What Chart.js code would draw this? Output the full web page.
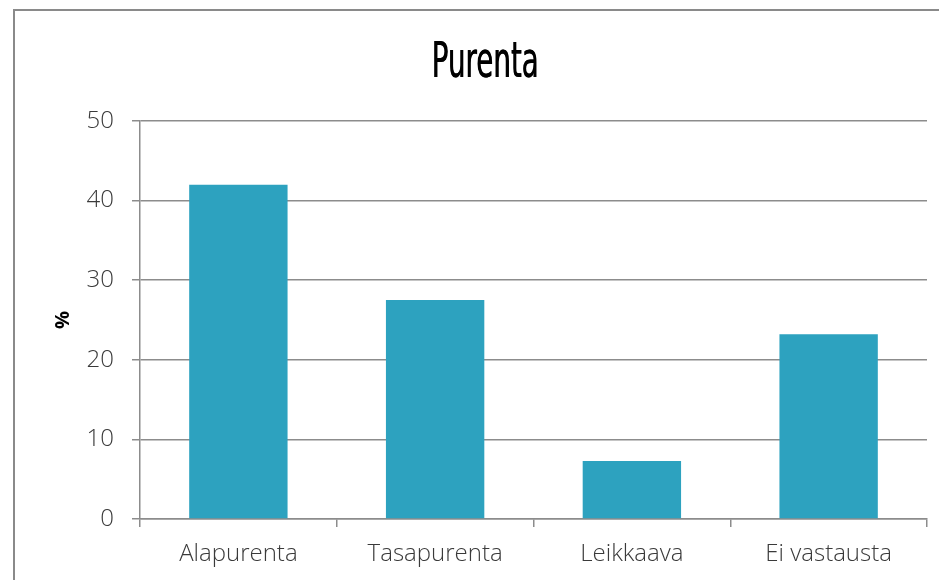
<!DOCTYPE html>
<html>
<head>
<meta charset="utf-8">
<title>Purenta</title>
<script src="https://cdn.jsdelivr.net/npm/chart.js@4.4.0/dist/chart.umd.min.js"></script>
<style>
    html, body { margin: 0; padding: 0; background: #fff; }
    #wrap { width: 939px; height: 580px; }
</style>
</head>
<body>
<div id="wrap"><canvas id="purentaChart" width="939" height="580"></canvas></div>
<script>
// Chart data
var categories = ['Alapurenta', 'Tasapurenta', 'Leikkaava', 'Ei vastausta'];
var percentValues = [42.0, 27.5, 7.3, 23.2];
var yTickValues = [0, 10, 20, 30, 40, 50];
var chartTitle = 'Purenta';
var yAxisTitle = '%';

var gridColor = '#8c8c8c';
var barColor = '#2da2bf';
var labelColor = '#3a3a3a';

// Frame lines and the narrow title (drawn compressed like the original)
var frameAndTitle = {
    id: 'frameAndTitle',
    beforeDraw: function (chart) {
        var ctx = chart.ctx;
        ctx.save();
        ctx.fillStyle = '#fff';
        ctx.fillRect(0, 0, chart.width, chart.height);
        ctx.strokeStyle = '#8a8a8a';
        ctx.lineWidth = 2;
        ctx.beginPath();
        ctx.moveTo(14, chart.height + 2);
        ctx.lineTo(14, 10);
        ctx.lineTo(chart.width + 2, 10);
        ctx.stroke();
        ctx.restore();
    },
    afterDraw: function (chart) {
        var ctx = chart.ctx;
        ctx.save();
        ctx.font = '50px "Liberation Sans Narrow", "DejaVu Sans Condensed", sans-serif';
        ctx.fillStyle = '#000';
        ctx.textAlign = 'center';
        ctx.textBaseline = 'alphabetic';
        ctx.fillText(chartTitle, 485, 77, 107);
        // a touch of extra weight
        ctx.fillText(chartTitle, 485.6, 77, 107);
        ctx.restore();
    }
};

var ctx = document.getElementById('purentaChart');
new Chart(ctx, {
    type: 'bar',
    data: {
        labels: categories,
        datasets: [{
            label: yAxisTitle,
            data: percentValues,
            backgroundColor: barColor,
            borderWidth: 0,
            categoryPercentage: 1,
            barPercentage: 0.5
        }]
    },
    options: {
        responsive: false,
        animation: false,
        devicePixelRatio: 1,
        layout: {
            padding: { left: 14, right: 12, top: 121, bottom: 0 }
        },
        plugins: {
            legend: { display: false },
            title: { display: false },
            tooltip: { enabled: false }
        },
        scales: {
            x: {
                grid: {
                    display: true,
                    drawOnChartArea: false,
                    drawTicks: true,
                    tickLength: 8,
                    color: gridColor,
                    lineWidth: 1.5,
                    offset: true
                },
                border: { display: true, color: gridColor, width: 1.5 },
                ticks: {
                    color: labelColor,
                    font: { family: "'Open Sans', sans-serif", size: 24, weight: 300 },
                    padding: 13,
                    maxRotation: 0,
                    autoSkip: false
                },
                afterFit: function (scale) { scale.height = 61; }
            },
            y: {
                min: 0,
                max: 50,
                afterBuildTicks: function (scale) {
                    scale.ticks = yTickValues.map(function (v) { return { value: v }; });
                },
                grid: {
                    color: gridColor,
                    lineWidth: 1.5,
                    tickLength: 8
                },
                border: { display: true, color: gridColor, width: 1.5 },
                ticks: {
                    color: labelColor,
                    font: { family: "'Open Sans', sans-serif", size: 24, weight: 300 },
                    padding: 18
                },
                title: {
                    display: true,
                    text: yAxisTitle,
                    color: '#000',
                    font: { family: "'Open Sans', sans-serif", size: 20, weight: 'bold' },
                    padding: { top: 37, bottom: 0 }
                },
                afterFit: function (scale) { scale.width = 126; }
            }
        }
    },
    plugins: [frameAndTitle]
});
</script>
</body>
</html>
